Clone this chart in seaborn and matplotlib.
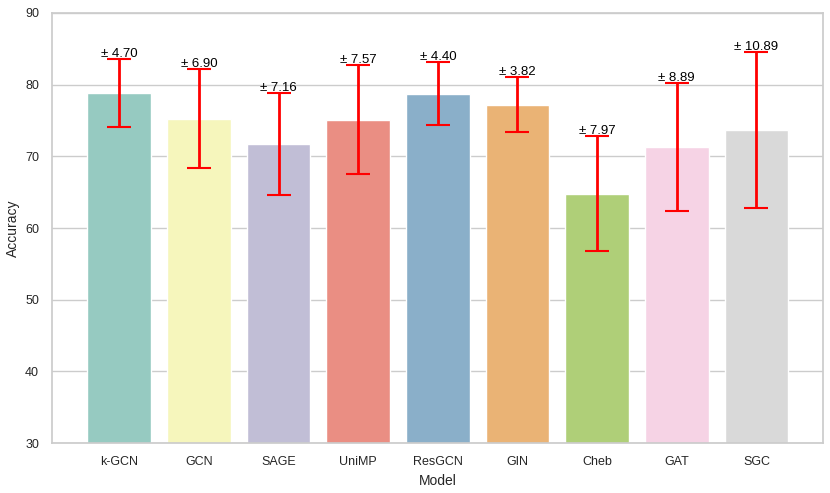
import numpy as np
import pandas as pd
import seaborn as sns
import matplotlib
matplotlib.use("Agg")
import matplotlib.pyplot as plt

# Model accuracies (mean and std)
models = ['k-GCN', 'GCN', 'SAGE', 'UniMP', 'ResGCN', 'GIN', 'Cheb', 'GAT', 'SGC']
means = [78.8, 75.2, 71.7, 75.1, 78.7, 77.2, 64.8, 71.3, 73.7]
stds = [4.70, 6.90, 7.16, 7.57, 4.40, 3.82, 7.97, 8.89, 10.89]

df = pd.DataFrame({'Model': models, 'Accuracy': means, 'Std': stds})

sns.set_theme(style="whitegrid")
plt.rcParams['font.family'] = ['Liberation Sans', 'DejaVu Sans']

fig, ax = plt.subplots(figsize=(8.3, 4.93), dpi=100)

sns.barplot(x='Model', y='Accuracy', hue='Model', data=df,
            palette='Set3', legend=False, errorbar=None, ax=ax)

# Error bars
ax.errorbar(np.arange(len(models)), df['Accuracy'], yerr=df['Std'],
            fmt='none', ecolor='red', elinewidth=2, capsize=8.5, capthick=1.5)

# Std labels sitting on the error bar caps
for i, (m, s) in enumerate(zip(df['Accuracy'], df['Std'])):
    ax.annotate(f'± {s:.2f}', (i, m + s), xytext=(0, 1.5),
                textcoords='offset points', ha='center', va='baseline',
                fontsize=9.5, color='black')

ax.set_ylim(30, 90)
ax.set_xlim(-0.84, len(models) - 1 + 0.84)
ax.set_xlabel('Model', fontsize=10)
ax.set_ylabel('Accuracy', fontsize=10)
ax.tick_params(axis='both', labelsize=9)
ax.xaxis.grid(False)

plt.subplots_adjust(left=0.063, right=0.992, top=0.974, bottom=0.101)
plt.savefig('out.png', dpi=100)
